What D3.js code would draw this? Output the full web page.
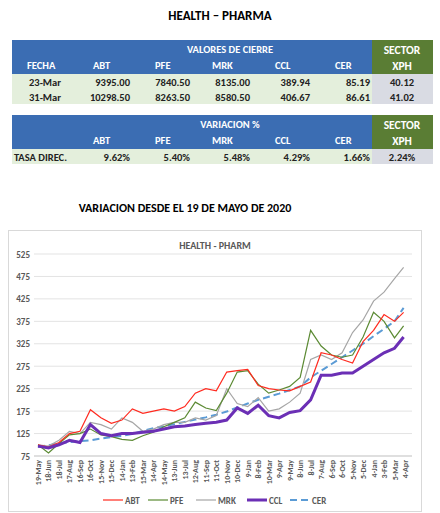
<!DOCTYPE html>
<html><head><meta charset="utf-8">
<script src="https://cdn.jsdelivr.net/npm/d3@7"></script>
<style>body{margin:0;background:#fff;font-family:Calibri,Carlito,"Liberation Sans",Arial,sans-serif}</style>
</head><body><svg id="c" width="440" height="513"></svg>
<script>
const tableCols = ["FECHA","ABT","PFE","MRK","CCL","CER"];
const closeRows = [["23-Mar","9395.00","7840.50","8135.00","389.94","85.19","40.12"],
                   ["31-Mar","10298.50","8263.50","8580.50","406.67","86.61","41.02"]];
const varRow = ["TASA DIREC.","9.62%","5.40%","5.48%","4.29%","1.66%","2.24%"];

const dates = ["2020-05-19","2020-06-18","2020-07-18","2020-08-17","2020-09-16","2020-10-16","2020-11-15","2020-12-15",
"2021-01-14","2021-02-13","2021-03-15","2021-04-14","2021-05-14","2021-06-13","2021-07-13","2021-08-12","2021-09-11",
"2021-10-11","2021-11-10","2021-12-10","2022-01-09","2022-02-08","2022-03-10","2022-04-09","2022-05-09","2022-06-08",
"2022-07-08","2022-08-07","2022-09-06","2022-10-06","2022-11-05","2022-12-05","2023-01-04","2023-02-03","2023-03-05","2023-03-31"];
const ABT = [100,95,105,125,130,178,160,148,155,180,170,175,180,175,185,215,225,220,262,265,268,232,225,222,220,230,240,305,300,290,282,330,355,390,375,395];
const PFE = [100,82,103,122,125,135,122,118,112,110,120,128,140,150,160,195,182,176,215,262,265,235,215,222,230,250,355,320,300,295,300,340,395,375,338,365];
const MRK = [100,97,110,130,125,150,145,135,160,150,130,135,145,150,150,160,155,165,225,192,185,205,175,180,195,215,290,300,290,305,350,378,420,440,470,495];
const CCL = [97,93,100,110,105,145,125,120,125,125,128,130,135,140,142,145,148,150,155,182,170,188,165,160,172,176,200,255,255,260,260,275,290,305,315,340];
const CER = [95,99,103,106,108,110,114,117,120,124,131,137,141,146,151,156,161,167,174,183,192,200,207,214,222,230,250,265,280,295,310,325,342,358,375,405];
const yTicks = [75,125,175,225,275,325,375,425,475,525];
const xLabels = ["19-May","18-Jun","18-Jul","17-Aug","16-Sep","16-Oct","15-Nov","15-Dec","14-Jan","13-Feb","15-Mar","14-Apr","14-May","13-Jun","13-Jul","12-Aug","11-Sep","11-Oct","10-Nov","10-Dec","9-Jan","8-Feb","10-Mar","9-Apr","9-May","8-Jun","8-Jul","7-Aug","6-Sep","6-Oct","5-Nov","5-Dec","4-Jan","3-Feb","5-Mar","4-Apr"];

const svg = d3.select("#c");
const BLUE="#3b6db3", GREEN="#5a7d34", LG="#e4efdc", GR="#d9dbe3";

svg.append("text").attr("x",220).attr("y",20).attr("text-anchor","middle").attr("font-weight","bold").attr("font-size",13).text("HEALTH – PHARMA");

const colX = d3.scaleOrdinal().domain(d3.range(7)).range([45,130,190,250,310,370,402]);
const hdrX = [27,93,155,212,275,335,402];
function table(y0, title, rows, isVar){
  svg.append("rect").attr("x",12).attr("y",y0).attr("width",360).attr("height",34).attr("fill",BLUE);
  svg.append("rect").attr("x",372).attr("y",y0).attr("width",61).attr("height",34).attr("fill",GREEN);
  svg.append("text").attr("x",230).attr("y",y0+13).attr("text-anchor","middle").attr("fill","#fff").attr("font-weight","bold").attr("font-size",10.5).text(title);
  svg.append("text").attr("x",402).attr("y",y0+14).attr("text-anchor","middle").attr("fill","#fff").attr("font-weight","bold").attr("font-size",11.5).text("SECTOR");
  svg.append("text").attr("x",402).attr("y",y0+30).attr("text-anchor","middle").attr("fill","#fff").attr("font-weight","bold").attr("font-size",11.5).text("XPH");
  tableCols.forEach((c,i)=>{ if(isVar && i==0) return;
    svg.append("text").attr("x",hdrX[i]).attr("y",y0+29).attr("fill","#fff").attr("font-weight","bold").attr("font-size",10.5).text(c);});
  rows.forEach((r,j)=>{
    const y=y0+34+j*15;
    svg.append("rect").attr("x",12).attr("y",y).attr("width",360).attr("height",15).attr("fill",LG);
    svg.append("rect").attr("x",372).attr("y",y).attr("width",61).attr("height",15).attr("fill",GR);
    r.forEach((v,i)=>{
      const anchor = i==6?"middle":(i==0?(isVar?"start":"middle"):"end");
      svg.append("text").attr("x",i==0&&isVar?14:colX(i)).attr("y",y+11.5).attr("text-anchor",anchor).attr("font-weight","bold").attr("font-size",10.5).attr("fill","#222").text(v);
    });
  });
}
table(40,"VALORES DE CIERRE",closeRows,false);
table(115,"VARIACION %",[varRow],true);

svg.append("text").attr("x",185).attr("y",212).attr("text-anchor","middle").attr("font-weight","bold").attr("font-size",12).text("VARIACION DESDE EL 19 DE MAYO DE 2020");

svg.append("rect").attr("x",8.5).attr("y",230.5).attr("width",413).attr("height",281).attr("fill","#fff").attr("stroke","#d9d9d9");
svg.append("text").attr("x",215).attr("y",249).attr("text-anchor","middle").attr("font-weight","bold").attr("font-size",10).attr("fill","#595959").text("HEALTH - PHARM");

const parse=d3.timeParse("%Y-%m-%d");
const D=dates.map(parse);
const x=d3.scaleTime().domain([parse("2020-05-19"),parse("2023-04-04")]).range([38,405]);
const y=d3.scaleLinear().domain([75,525]).range([456,254]);
const L=38, R=412;
yTicks.forEach(t=>{
  svg.append("line").attr("x1",L-4).attr("x2",R).attr("y1",y(t)).attr("y2",y(t)).attr("stroke",t==75?"#bfbfbf":"#e3e3e3");
});
svg.append("g").selectAll("text").data(yTicks).join("text").attr("x",30).attr("y",d=>y(d)+3.5).attr("text-anchor","end").attr("font-size",9).attr("font-weight","bold").attr("fill","#595959").text(d=>d);
const xStart=parse("2020-05-19");
svg.append("g").selectAll("text").data(xLabels).join("text")
 .attr("transform",(d,i)=>`translate(${x(d3.timeDay.offset(xStart,i*30))+3},${460}) rotate(-90)`)
 .attr("text-anchor","end").attr("font-size",8).attr("font-weight","bold").attr("fill","#595959").text(d=>d);

const line=d3.line().x((d,i)=>x(D[i])).y(d=>y(d));
const series=[["ABT",ABT,"#ff2a1f",1.2,null],["PFE",PFE,"#5b8a33",1.2,null],["MRK",MRK,"#a6a6a6",1.2,null],["CCL",CCL,"#6b2fb5",3,null],["CER",CER,"#5b9bd5",2,"7,4"]];
const order=[4,2,1,0,3];
order.forEach(k=>{const s=series[k];
  svg.append("path").attr("d",line(s[1])).attr("fill","none").attr("stroke",s[2]).attr("stroke-width",s[3]).attr("stroke-dasharray",s[4]);
});
const lx=[103,148,196,247,290];
series.forEach((s,i)=>{
  svg.append("line").attr("x1",lx[i]).attr("x2",lx[i]+20).attr("y1",500).attr("y2",500).attr("stroke",s[2]).attr("stroke-width",s[3]).attr("stroke-dasharray",s[4]);
  svg.append("text").attr("x",lx[i]+22).attr("y",503.5).attr("font-size",9).attr("font-weight","bold").attr("fill","#595959").text(s[0]);
});
</script></body></html>
